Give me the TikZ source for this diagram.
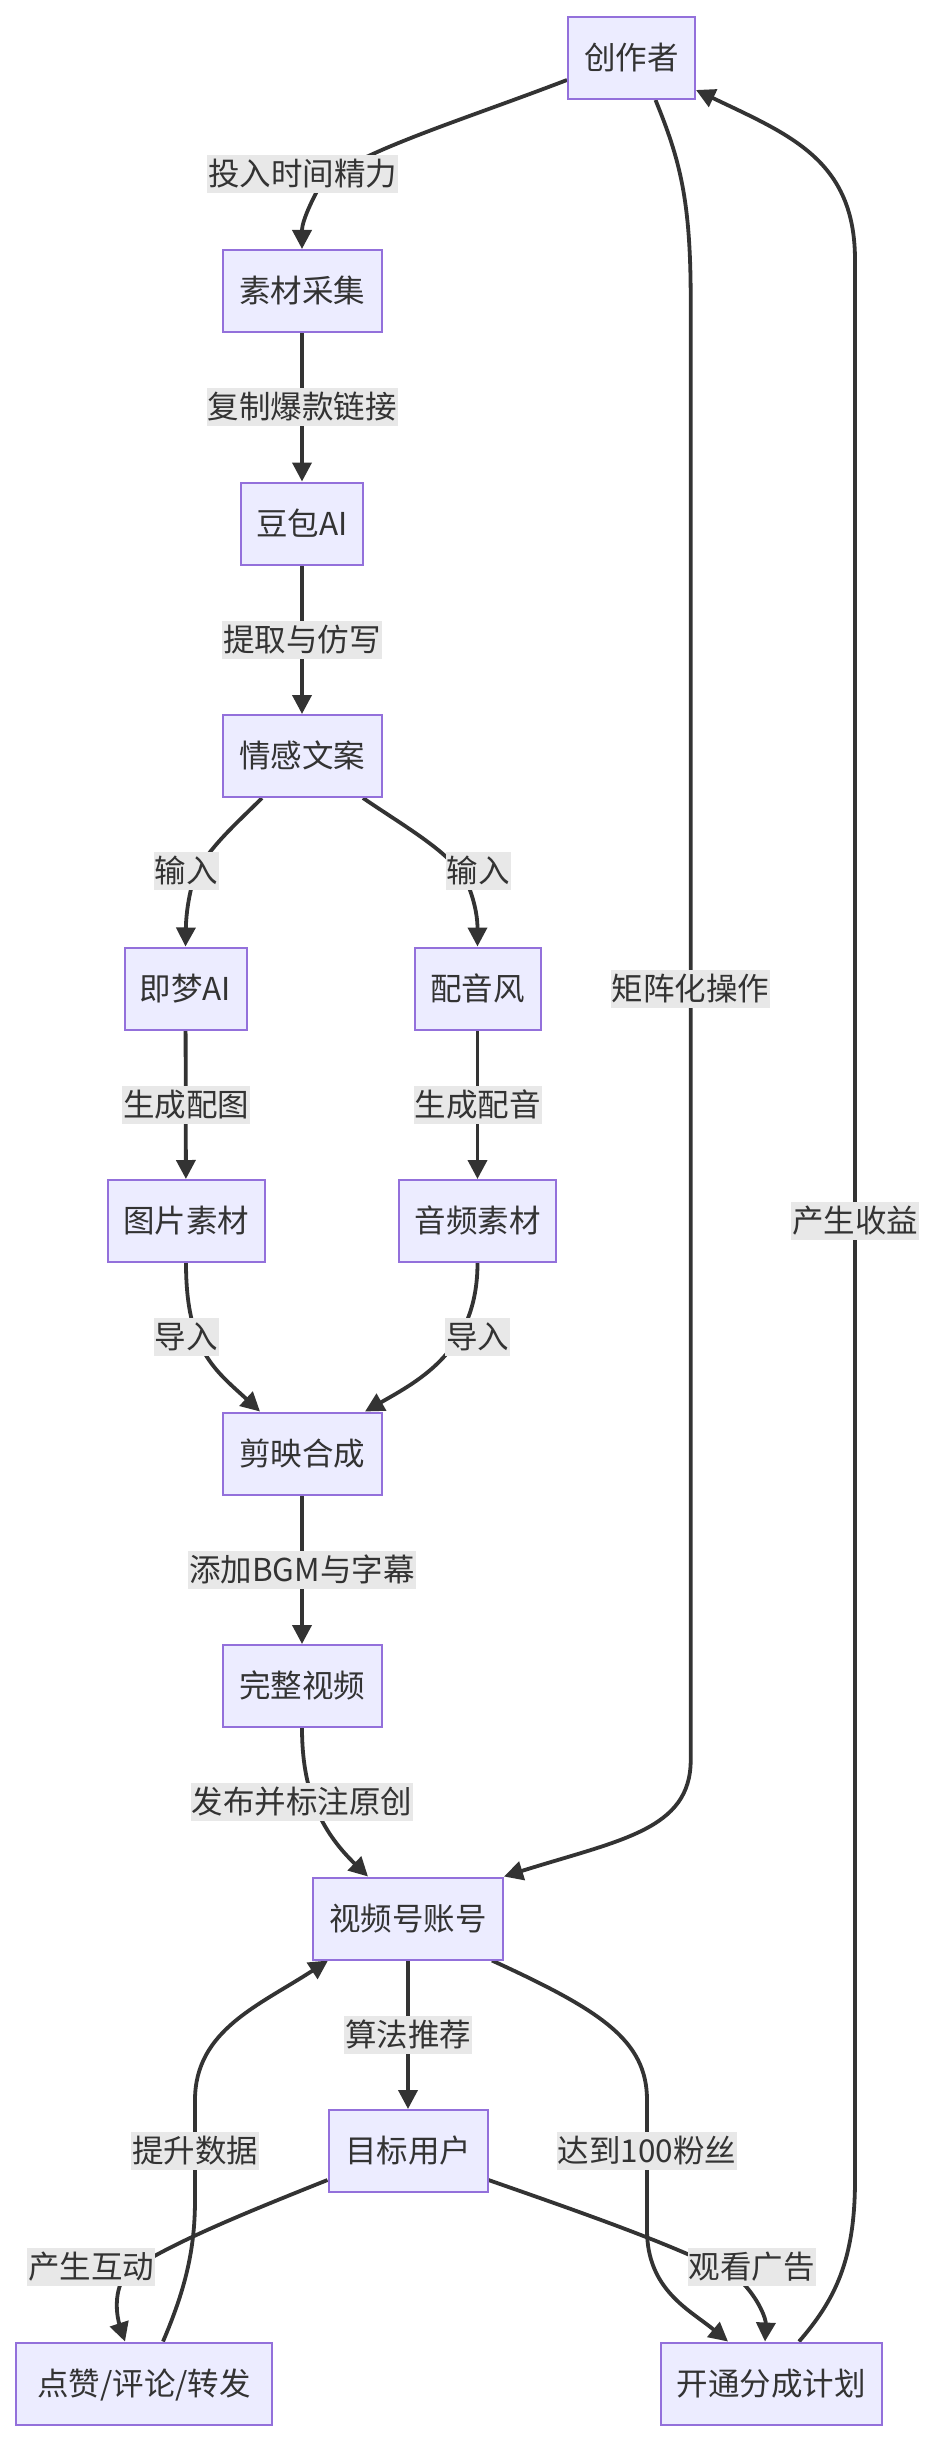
\documentclass[tikz,border=0pt]{standalone}
\usepackage{fontspec}
\setmainfont{Noto Sans CJK SC}
\usepackage{tikz}
\usetikzlibrary{
  arrows.meta,
  backgrounds
}
\definecolor{boxfill}{HTML}{ECECFF}
\definecolor{boxline}{HTML}{9370DB}
\definecolor{edgeline}{HTML}{333333}
\definecolor{labelbg}{HTML}{E8E8E8}

\begin{document}
\begin{tikzpicture}[
  x=1pt, y=-1pt,
  proc/.style={
    draw=boxline, fill=boxfill, line width=2pt,
    minimum height=82pt, inner xsep=0pt,
    font=\fontsize{31.5}{36}\selectfont, text=edgeline,
    text height=27.7pt, text depth=3.8pt
  },
  elabel/.style={
    fill=labelbg, minimum height=38pt, inner xsep=1pt, inner ysep=0pt,
    font=\fontsize{31.5}{36}\selectfont, text=edgeline,
    text height=27.7pt, text depth=3.8pt
  },
  flow/.style={
    draw=edgeline, line width=3.8pt,
    -{Triangle[length=19pt, width=19pt]}
  }
]
  \useasboundingbox (0,0) rectangle (936,2440);

  \node[proc, minimum width=127pt] (chuangzuo) at (631.5,  58)   {创作者};
  \node[proc, minimum width=159pt] (sucai)     at (302,   291)   {素材采集};
  \node[proc, minimum width=122pt] (doubao)    at (302,   523.5) {豆包AI};
  \node[proc, minimum width=159pt] (wenan)     at (302,   756)   {情感文案};
  \node[proc, minimum width=122pt] (jimeng)    at (185.5, 988.5) {即梦AI};
  \node[proc, minimum width=126pt] (peiyin)    at (477.5, 988.5) {配音风};
  \node[proc, minimum width=157pt] (tupian)    at (186,  1221)   {图片素材};
  \node[proc, minimum width=157pt] (yinpin)    at (477.5,1221)   {音频素材};
  \node[proc, minimum width=159pt] (jianying)  at (302,  1453.5) {剪映合成};
  \node[proc, minimum width=159pt] (shipin)    at (302,  1686)   {完整视频};
  \node[proc, minimum width=190pt] (zhanghao)  at (408,  1918.5) {视频号账号};
  \node[proc, minimum width=159pt] (yonghu)    at (408,  2151)   {目标用户};
  \node[proc, minimum width=256pt] (hudong)    at (144,  2383.5) {点赞/评论/转发};
  \node[proc, minimum width=221pt] (fencheng)  at (771,  2383.5) {开通分成计划};

  \node[elabel] (lbtouru)    at (302.5, 174)   {投入时间精力};
  \node[elabel] (lbfuzhi)    at (302,   407)   {复制爆款链接};
  \node[elabel] (lbtiqu)     at (302,   639.5) {提取与仿写};
  \node[elabel] (lbshuruA)   at (186,   871)   {输入};
  \node[elabel] (lbshuruB)   at (478,   871)   {输入};
  \node[elabel] (lbpeitu)    at (186,  1104.5) {生成配图};
  \node[elabel] (lbpeiyin)   at (477.5,1104.5) {生成配音};
  \node[elabel] (lbdaoruA)   at (186,  1337)   {导入};
  \node[elabel] (lbdaoruB)   at (477.5,1337)   {导入};
  \node[elabel] (lbtianjia)  at (302,  1569.5) {添加BGM与字幕};
  \node[elabel] (lbfabu)     at (302,  1802)   {发布并标注原创};
  \node[elabel] (lbjuzhen)   at (690.7, 988.5) {矩阵化操作};
  \node[elabel] (lbshouyi)   at (855,  1221)   {产生收益};
  \node[elabel] (lbsuanfa)   at (408,  2034.5) {算法推荐};
  \node[elabel] (lbtisheng)  at (195,  2151)   {提升数据};
  \node[elabel] (lbfensi)    at (647,  2151)   {达到100粉丝};
  \node[elabel] (lbhudong)   at (91,   2267)   {产生互动};
  \node[elabel] (lbguankan)  at (751.5,2267)   {观看广告};

  \begin{scope}[on background layer]
    \fill[white] (0,0) rectangle (936,2440);

    \draw[flow] ([yshift=-22pt]chuangzuo.west)
      .. controls (450,125) and (330,160) .. (315,195)
      .. controls (305,215) and (302,225) .. (sucai.north);
    \draw[flow] (sucai) -- (doubao);
    \draw[flow] (doubao) -- (wenan);
    \draw[flow] ([xshift=-40pt]wenan.south)
      .. controls (235,825) and (200,855) .. (192,885)
      .. controls (187,905) and (186,920) .. (jimeng.north);
    \draw[flow] ([xshift=61pt]wenan.south)
      .. controls (410,830) and (455,855) .. (468,885)
      .. controls (476,905) and (477.5,920) .. (peiyin.north);
    \draw[flow] (jimeng) -- (tupian);
    \draw[flow] (peiyin) -- (yinpin);
    \draw[flow] (tupian.south)
      .. controls (186,1350) and (215,1370) .. ([xshift=-42pt]jianying.north);
    \draw[flow] (yinpin.south)
      .. controls (477.5,1350) and (420,1380) .. ([xshift=63pt]jianying.north);
    \draw[flow] (jianying) -- (shipin);
    \draw[flow] (shipin.south)
      .. controls (302,1790) and (320,1830) .. ([xshift=-40pt]zhanghao.north);
    \draw[flow] ([xshift=24pt]chuangzuo.south)
      .. controls (680,160) and (690.7,200) .. (690.7,300)
      -- (690.7,1760)
      .. controls (690.7,1830) and (620,1840) .. (zhanghao.north east);
    \draw[flow] ([xshift=28pt]fencheng.north)
      .. controls (835,2300) and (855,2260) .. (855,2180)
      -- (855,260)
      .. controls (855,160) and (790,135) .. ([yshift=-32pt]chuangzuo.east);
    \draw[flow] (zhanghao) -- (yonghu);
    \draw[flow] ([xshift=84pt]zhanghao.south)
      .. controls (600,2010) and (647,2040) .. (647,2100)
      -- (647,2230)
      .. controls (647,2290) and (690,2310) .. ([xshift=-43pt]fencheng.north);
    \draw[flow] ([yshift=-29pt]yonghu.west)
      .. controls (250,2211) and (160,2247) .. (125,2275)
      .. controls (112,2295) and (118,2320) .. ([xshift=-19pt]hudong.north);
    \draw[flow] ([xshift=19pt]hudong.north)
      .. controls (185,2290) and (195,2250) .. (195,2200)
      -- (195,2100)
      .. controls (195,2030) and (260,2005) .. ([xshift=-80pt]zhanghao.south);
    \draw[flow] ([yshift=-29pt]yonghu.east)
      .. controls (580,2212) and (690,2250) .. (740,2280)
      .. controls (760,2300) and (766,2320) .. ([xshift=-6pt]fencheng.north);
  \end{scope}
\end{tikzpicture}
\end{document}
